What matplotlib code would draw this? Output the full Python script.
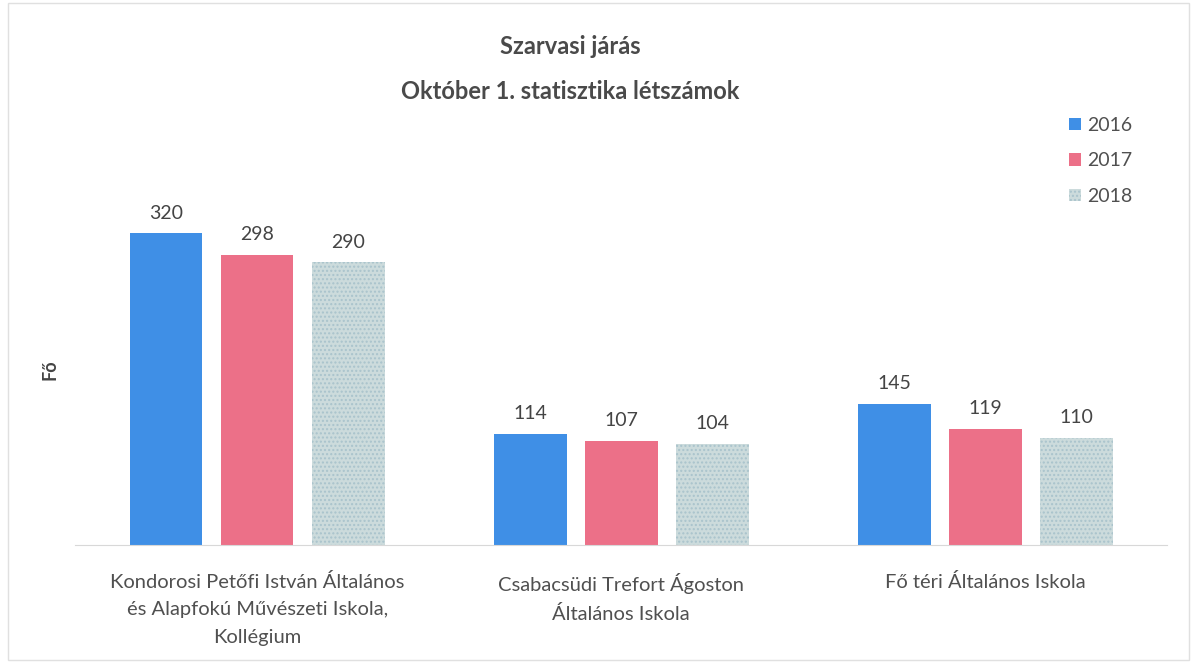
import numpy as np
import matplotlib.pyplot as plt
from matplotlib.patches import Rectangle

plt.rcParams['font.family'] = ['Lato', 'DejaVu Sans']

schools = ["Kondorosi Petőfi István Általános\nés Alapfokú Művészeti Iskola,\nKollégium",
           "Csabacsüdi Trefort Ágoston\nÁltalános Iskola",
           "Fő téri Általános Iskola"]
years = ["2016", "2017", "2018"]
v2016 = [320, 114, 145]
v2017 = [298, 107, 119]
v2018 = [290, 104, 110]

fig = plt.figure(figsize=(11.95, 6.63), dpi=100)
ax = fig.add_axes([0.0628, 0.178, 0.914, 0.529])

x = np.arange(len(schools))
w = 0.2
off = 0.25
b1 = ax.bar(x - off, v2016, w, color='#3f8fe6', label=years[0])
b2 = ax.bar(x, v2017, w, color='#ec7088', label=years[1])
b3 = ax.bar(x + off, v2018, w, color='#ccdbdc', edgecolor='#a9c3cc', hatch='....',
            linewidth=0, label=years[2])

for bars in (b1, b2, b3):
    for r in bars:
        ax.text(r.get_x() + r.get_width() / 2, r.get_height() + 12, f"{int(r.get_height())}",
                ha='center', va='bottom', fontsize=14, color='#444444')

ax.set_xlim(-0.5, 2.5)
ax.set_ylim(0, 360)
ax.set_xticks(x)
ax.set_xticklabels(schools, fontsize=14.5, color='#505050', linespacing=1.75)
ax.tick_params(axis='x', length=0, pad=20)
ax.set_yticks([])
for s in ['top', 'right', 'left']:
    ax.spines[s].set_visible(False)
ax.spines['bottom'].set_color('#d8d8d8')
ax.set_ylabel("Fő", fontsize=13, color='#444444', fontweight='bold', labelpad=12)

fig.text(0.477, 0.93, "Szarvasi járás", ha='center', va='center', fontsize=17,
         fontweight='bold', color='#4a4a4a')
fig.text(0.477, 0.862, "Október 1. statisztika létszámok", ha='center', va='center',
         fontsize=17, fontweight='bold', color='#4a4a4a')

leg = fig.legend(loc='upper right', bbox_to_anchor=(0.962, 0.85), frameon=False,
                 fontsize=14, handlelength=0.6, handleheight=0.6, handletextpad=0.3,
                 labelspacing=0.95)
for t in leg.get_texts():
    t.set_color('#505050')

fig.patches.append(Rectangle((0.007, 0.005), 0.988, 0.99, transform=fig.transFigure,
                             fill=False, edgecolor='#e0e0e0', linewidth=1))

plt.savefig("out.png", dpi=100)
